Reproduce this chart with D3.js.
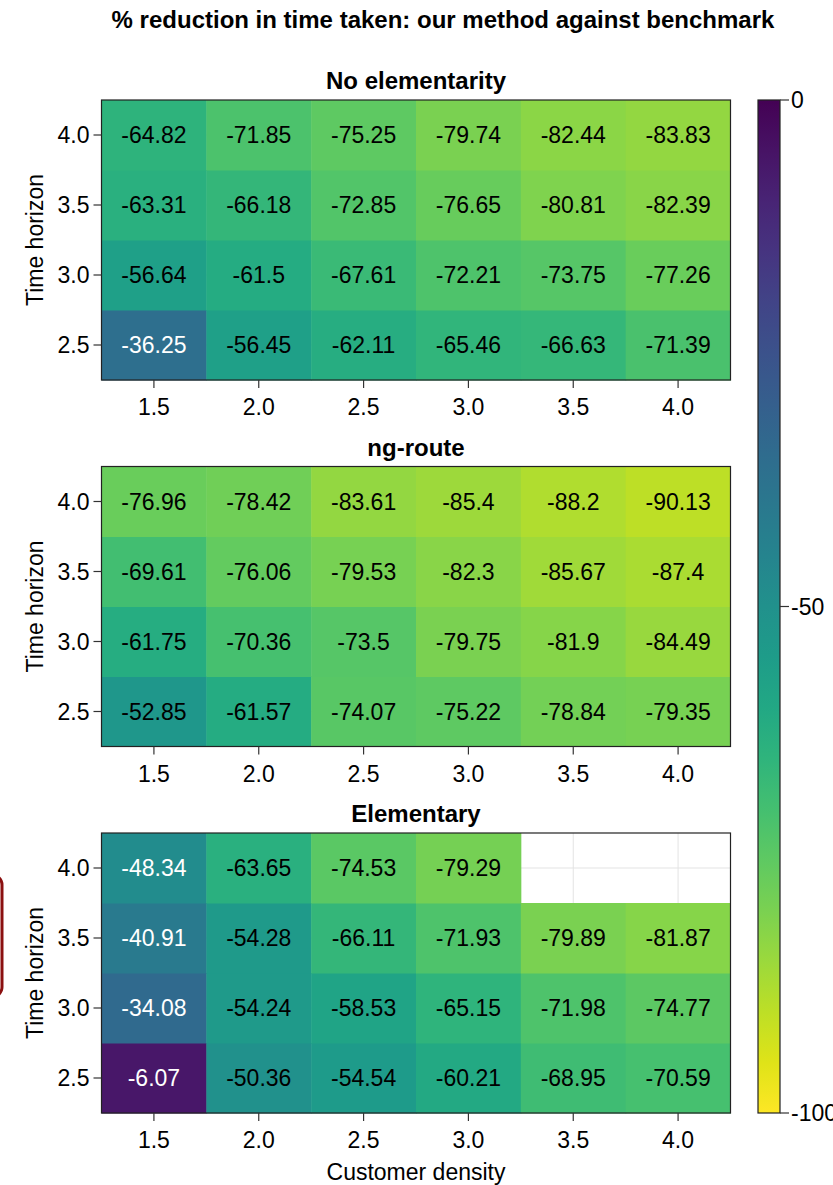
<!DOCTYPE html>
<html>
<head>
<meta charset="utf-8">
<script src="https://cdn.jsdelivr.net/npm/d3@7"></script>
<style>
  html, body { margin: 0; padding: 0; background: #fff; }
  svg { display: block; font-family: "Liberation Sans", Arial, Helvetica, sans-serif; }
</style>
</head>
<body>
<script>
// ---- Data ----
const figureTitle = "% reduction in time taken: our method against benchmark";
const panelTitles = ["No elementarity", "ng-route", "Elementary"];
const customerDensity = [1.5, 2.0, 2.5, 3.0, 3.5, 4.0];
const timeHorizon = [2.5, 3.0, 3.5, 4.0];
const xTickLabels = ["1.5", "2.0", "2.5", "3.0", "3.5", "4.0"];
const yTickLabels = ["2.5", "3.0", "3.5", "4.0"];
const colorbarTicks = [0, -50, -100];
const xLabel = "Customer density";
const yLabel = "Time horizon";

// rows ordered by time horizon 2.5, 3.0, 3.5, 4.0; columns by customer density
const noElementarity = [
  [-36.25, -56.45, -62.11, -65.46, -66.63, -71.39],
  [-56.64, -61.5,  -67.61, -72.21, -73.75, -77.26],
  [-63.31, -66.18, -72.85, -76.65, -80.81, -82.39],
  [-64.82, -71.85, -75.25, -79.74, -82.44, -83.83]
];
const ngRoute = [
  [-52.85, -61.57, -74.07, -75.22, -78.84, -79.35],
  [-61.75, -70.36, -73.5,  -79.75, -81.9,  -84.49],
  [-69.61, -76.06, -79.53, -82.3,  -85.67, -87.4],
  [-76.96, -78.42, -83.61, -85.4,  -88.2,  -90.13]
];
const elementary = [
  [-6.07,  -50.36, -54.54, -60.21, -68.95, -70.59],
  [-34.08, -54.24, -58.53, -65.15, -71.98, -74.77],
  [-40.91, -54.28, -66.11, -71.93, -79.89, -81.87],
  [-48.34, -63.65, -74.53, -79.29, null,   null]
];
const panelData = [noElementarity, ngRoute, elementary];

// ---- Layout ----
const W = 833, H = 1185;
const plotLeft = 101.5, plotRight = 730.5;
const panelTops = [100, 466.5, 833];
const panelH = 280;
const cbLeft = 758, cbRight = 780, cbTop = 100, cbBottom = 1113;
const fontSize = 23;
const tickFont = 23;
const titleFont = 24;

const svg = d3.select("body").append("svg").attr("width", W).attr("height", H);

// colour scale: 0 -> dark purple, -100 -> yellow
const color = d3.scaleSequential(d3.interpolateViridis).domain([0, -100]);

const xBand = d3.scaleBand().domain(customerDensity).range([plotLeft, plotRight]).padding(0);

svg.append("text")
  .attr("x", 443).attr("y", 28)
  .attr("text-anchor", "middle")
  .attr("font-weight", "bold")
  .attr("font-size", titleFont)
  .text(figureTitle);

panelData.forEach((data, pi) => {
  const top = panelTops[pi];
  const yBand = d3.scaleBand().domain(timeHorizon).range([top + panelH, top]).padding(0);
  const g = svg.append("g");

  const grid = g.append("g");
  customerDensity.forEach(c => {
    grid.append("line")
      .attr("x1", xBand(c) + xBand.bandwidth() / 2).attr("x2", xBand(c) + xBand.bandwidth() / 2)
      .attr("y1", top).attr("y2", top + panelH)
      .attr("stroke", "#e3e3e3").attr("stroke-width", 1);
  });
  timeHorizon.forEach(t => {
    grid.append("line")
      .attr("x1", plotLeft).attr("x2", plotRight)
      .attr("y1", yBand(t) + yBand.bandwidth() / 2).attr("y2", yBand(t) + yBand.bandwidth() / 2)
      .attr("stroke", "#e3e3e3").attr("stroke-width", 1);
  });

  const cells = [];
  data.forEach((row, ri) => row.forEach((v, ci) => {
    if (v !== null) cells.push({ t: timeHorizon[ri], c: customerDensity[ci], v });
  }));

  g.selectAll("rect.cell").data(cells).enter().append("rect")
    .attr("class", "cell")
    .attr("x", d => xBand(d.c))
    .attr("y", d => yBand(d.t))
    .attr("width", xBand.bandwidth() + 0.5)
    .attr("height", yBand.bandwidth() + 0.5)
    .attr("fill", d => color(d.v));

  g.selectAll("text.val").data(cells).enter().append("text")
    .attr("class", "val")
    .attr("x", d => xBand(d.c) + xBand.bandwidth() / 2)
    .attr("y", d => yBand(d.t) + yBand.bandwidth() / 2)
    .attr("dy", "0.36em")
    .attr("text-anchor", "middle")
    .attr("font-size", fontSize)
    .attr("fill", d => d.v > -50 ? "#ffffff" : "#000000")
    .text(d => String(d.v));

  g.append("rect")
    .attr("x", plotLeft).attr("y", top)
    .attr("width", plotRight - plotLeft).attr("height", panelH)
    .attr("fill", "none").attr("stroke", "#222").attr("stroke-width", 1.2);

  customerDensity.forEach((c, i) => {
    const x = xBand(c) + xBand.bandwidth() / 2;
    g.append("line").attr("x1", x).attr("x2", x)
      .attr("y1", top + panelH).attr("y2", top + panelH + 8)
      .attr("stroke", "#333").attr("stroke-width", 1.2);
    g.append("text").attr("x", x).attr("y", top + panelH + 35)
      .attr("text-anchor", "middle").attr("font-size", tickFont)
      .text(xTickLabels[i]);
  });
  timeHorizon.forEach((t, i) => {
    const y = yBand(t) + yBand.bandwidth() / 2;
    g.append("line").attr("x1", plotLeft - 8).attr("x2", plotLeft)
      .attr("y1", y).attr("y2", y)
      .attr("stroke", "#333").attr("stroke-width", 1.2);
    g.append("text").attr("x", plotLeft - 12).attr("y", y).attr("dy", "0.36em")
      .attr("text-anchor", "end").attr("font-size", tickFont)
      .text(yTickLabels[i]);
  });

  g.append("text")
    .attr("x", (plotLeft + plotRight) / 2).attr("y", top - 11)
    .attr("text-anchor", "middle").attr("font-weight", "bold").attr("font-size", titleFont)
    .text(panelTitles[pi]);

  g.append("text")
    .attr("transform", `translate(43,${top + panelH / 2}) rotate(-90)`)
    .attr("text-anchor", "middle").attr("font-size", fontSize)
    .text(yLabel);
});

svg.append("text")
  .attr("x", (plotLeft + plotRight) / 2).attr("y", 1180)
  .attr("text-anchor", "middle").attr("font-size", fontSize)
  .text(xLabel);

// ---- Colorbar ----
const cbScale = d3.scaleLinear().domain([0, -100]).range([cbTop, cbBottom]);
const defs = svg.append("defs");
const grad = defs.append("linearGradient").attr("id", "cbgrad")
  .attr("x1", 0).attr("y1", 0).attr("x2", 0).attr("y2", 1);
d3.range(0, 1.0001, 0.05).forEach(t => {
  grad.append("stop").attr("offset", t).attr("stop-color", color(-100 * t));
});
svg.append("rect")
  .attr("x", cbLeft).attr("y", cbTop)
  .attr("width", cbRight - cbLeft).attr("height", cbBottom - cbTop)
  .attr("fill", "url(#cbgrad)").attr("stroke", "#222").attr("stroke-width", 1.2);
colorbarTicks.forEach(v => {
  const y = cbScale(v);
  svg.append("line").attr("x1", cbRight).attr("x2", cbRight + 9)
    .attr("y1", y).attr("y2", y).attr("stroke", "#333").attr("stroke-width", 1.2);
  svg.append("text").attr("x", cbRight + 11).attr("y", y).attr("dy", "0.36em")
    .attr("font-size", tickFont).text(String(v));
});

// partially visible dark-red frame at left edge
svg.append("rect")
  .attr("x", -30).attr("y", 875).attr("width", 32).attr("height", 122)
  .attr("rx", 10).attr("fill", "none")
  .attr("stroke", "#8b1010").attr("stroke-width", 3);
</script>
</body>
</html>
